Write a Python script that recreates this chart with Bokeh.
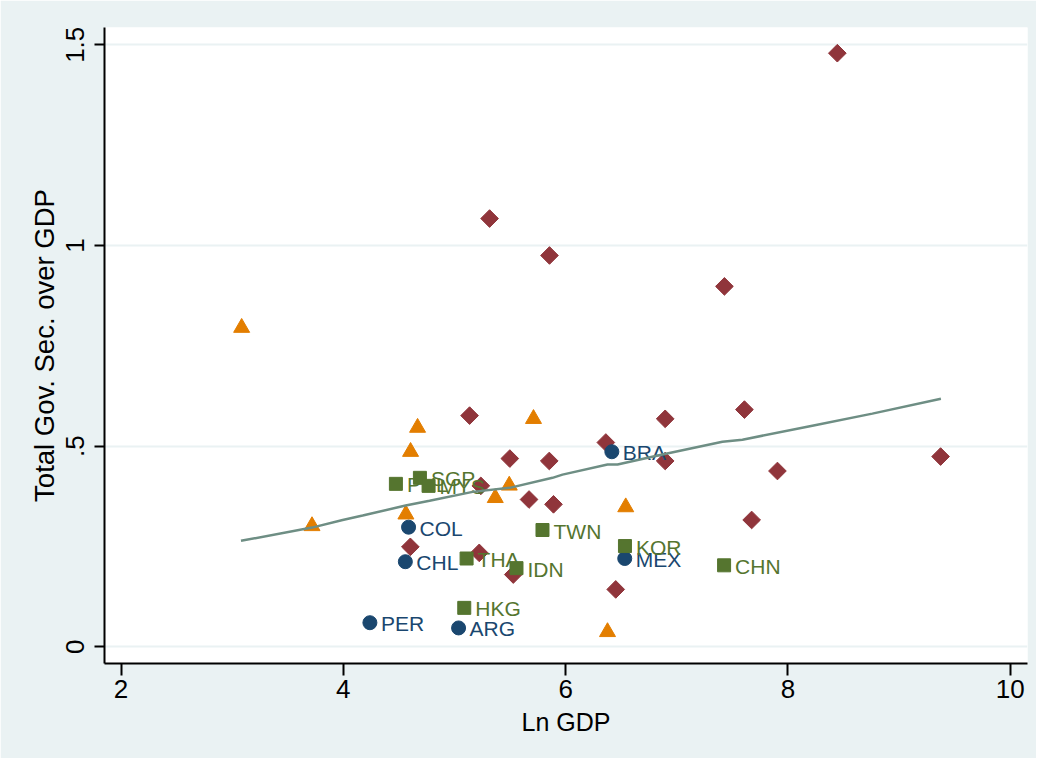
from bokeh.plotting import figure
from bokeh.models import Range1d, FixedTicker, ColumnDataSource
from bokeh.core.properties import value
from bokeh.embed import file_html
from bokeh.resources import INLINE
import math

# ---------------- data ----------------
tri_x = [3.085, 3.718, 4.668, 4.605, 4.563, 5.367, 5.493, 5.711, 6.541, 6.377]
tri_y = [0.795, 0.301, 0.546, 0.486, 0.330, 0.371, 0.402, 0.568, 0.348, 0.037]

dia_x = [8.445, 5.316, 5.855, 7.429, 5.136, 7.609, 6.896, 6.362, 5.498, 5.853, 6.896,
         9.374, 7.906, 5.237, 5.671, 5.891, 7.674, 4.603, 5.223, 5.529, 6.451]
dia_y = [1.479, 1.067, 0.975, 0.898, 0.576, 0.591, 0.568, 0.509, 0.469, 0.463, 0.463,
         0.474, 0.438, 0.401, 0.367, 0.355, 0.316, 0.249, 0.234, 0.180, 0.143]

asia_names = ["PHL", "SGP", "MYS", "TWN", "THA", "IDN", "HKG", "KOR", "CHN"]
asia_x = [4.473, 4.689, 4.767, 5.792, 5.109, 5.558, 5.088, 6.534, 7.426]
asia_y = [0.406, 0.421, 0.401, 0.291, 0.220, 0.196, 0.097, 0.251, 0.203]

latam_names = ["BRA", "COL", "CHL", "MEX", "PER", "ARG"]
latam_x = [6.416, 4.587, 4.558, 6.532, 4.239, 5.037]
latam_y = [0.486, 0.298, 0.212, 0.220, 0.060, 0.047]

fit_x = [3.079, 3.718, 3.994, 4.174, 4.560, 4.776, 5.163, 5.496, 5.882, 5.972,
         6.377, 6.467, 6.871, 7.411, 7.591, 8.220, 8.760, 9.377]
fit_y = [0.264, 0.297, 0.316, 0.327, 0.352, 0.364, 0.386, 0.396, 0.421, 0.429,
         0.454, 0.454, 0.479, 0.511, 0.516, 0.551, 0.581, 0.618]

x_ticks = [2, 4, 6, 8, 10]
y_ticks = [0, 0.5, 1, 1.5]
y_tick_labels = ["0", ".5", "1", "1.5"]

# ---------------- style ----------------
BG = "#EAF2F3"
NAVY = "#1A476F"
MAROON = "#90353B"
GREEN = "#55752F"
ORANGE = "#E37E00"
TEAL = "#6E8E84"
FONT = "Liberation Sans"

p = figure(width=1036, height=758, output_backend="svg", toolbar_location=None,
           x_range=Range1d(1.851, 10.156), y_range=Range1d(-0.0416, 1.543),
           min_border_left=104, min_border_right=9, min_border_top=27, min_border_bottom=95,
           background_fill_color="white", border_fill_color=BG, outline_line_color=None)

p.xgrid.visible = False
p.ygrid.ticker = FixedTicker(ticks=y_ticks)
p.ygrid.grid_line_color = BG
p.ygrid.grid_line_width = 2

for ax in (p.xaxis, p.yaxis):
    ax.axis_line_color = "black"
    ax.axis_line_width = 2
    ax.major_tick_line_color = "black"
    ax.major_tick_line_width = 2
    ax.major_tick_in = 0
    ax.minor_tick_line_color = None
    ax.major_label_text_font = FONT
    ax.major_label_text_font_size = "26px"
    ax.major_label_text_color = "black"
    ax.axis_label_text_font = FONT
    ax.axis_label_text_font_style = "normal"
    ax.axis_label_text_color = "black"

p.xaxis.ticker = FixedTicker(ticks=x_ticks)
p.xaxis.major_tick_out = 12
p.xaxis.major_label_standoff = 4
p.xaxis.axis_label = "Ln GDP"
p.xaxis.axis_label_text_font_size = "25px"
p.xaxis.axis_label_standoff = 7

p.yaxis.ticker = FixedTicker(ticks=y_ticks)
p.yaxis.major_label_overrides = {t: s for t, s in zip(y_ticks, y_tick_labels)}
p.yaxis.major_label_orientation = "vertical"
p.yaxis.major_tick_out = 10
p.yaxis.major_label_standoff = 10
p.yaxis.axis_label = "Total Gov. Sec. over GDP"
p.yaxis.axis_label_text_font_size = "27.5px"
p.yaxis.axis_label_standoff = 4

# markers
p.scatter(tri_x, tri_y, marker="triangle", size=16, fill_color=ORANGE, line_color=ORANGE)
p.scatter(dia_x, dia_y, marker="square", angle=math.pi / 4, size=12.5,
          fill_color=MAROON, line_color=MAROON)

latam = ColumnDataSource(dict(x=latam_x, y=latam_y, name=latam_names))
asia = ColumnDataSource(dict(x=asia_x, y=asia_y, name=asia_names))

p.scatter("x", "y", source=latam, marker="circle", size=14, fill_color=NAVY, line_color=NAVY)
p.scatter("x", "y", source=asia, marker="square", size=13, fill_color=GREEN, line_color=GREEN)

p.text("x", "y", text="name", source=latam, x_offset=11, y_offset=1, text_baseline="middle",
       text_font=value(FONT), text_font_size="21px", text_color=NAVY)
p.text("x", "y", text="name", source=asia, x_offset=11, y_offset=1, text_baseline="middle",
       text_font=value(FONT), text_font_size="21px", text_color=GREEN)

p.line(fit_x, fit_y, line_color=TEAL, line_width=2.5)

open("out.html", "w").write(file_html(p, INLINE))
